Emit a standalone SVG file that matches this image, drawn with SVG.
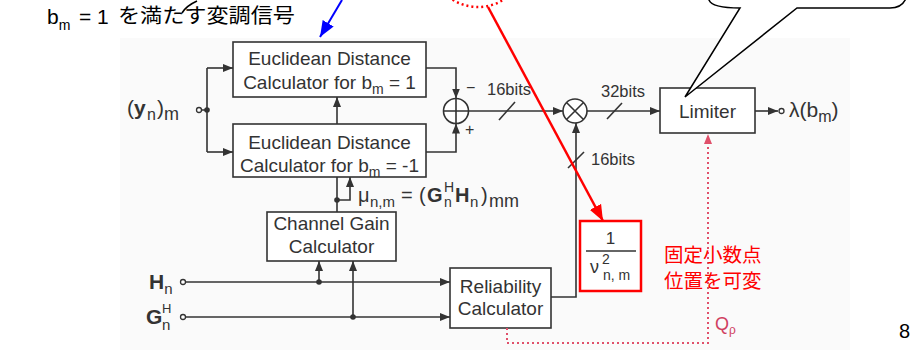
<svg xmlns="http://www.w3.org/2000/svg" width="922" height="350" viewBox="0 0 922 350">
<style>
.ln{stroke:#333;stroke-width:1.6;fill:none}
.bx{stroke:#333;stroke-width:1.6;fill:#fff}
.t{font-family:"Liberation Sans",Arial,sans-serif;fill:#333}
.b{font-weight:bold}
.dot{fill:#333}
.oc{fill:#fff;stroke:#333;stroke-width:1.3}
.j{font-family:"Liberation Sans","Noto Sans CJK JP",sans-serif}
</style>
<defs>
<marker id="ah" viewBox="0 0 10 8" refX="10" refY="4" markerWidth="10" markerHeight="8" markerUnits="userSpaceOnUse" orient="auto"><path d="M0,0 L10,4 L0,8 z" fill="#333"/></marker>
<marker id="ahr" viewBox="0 0 10 8" refX="10" refY="4" markerWidth="16" markerHeight="13" markerUnits="userSpaceOnUse" orient="auto"><path d="M0,0 L10,4 L0,8 z" fill="#f00"/></marker>
<marker id="ahb" viewBox="0 0 10 8" refX="10" refY="4" markerWidth="16" markerHeight="13" markerUnits="userSpaceOnUse" orient="auto"><path d="M0,0 L10,4 L0,8 z" fill="#00f"/></marker>
<marker id="ahp" viewBox="0 0 10 8" refX="10" refY="4" markerWidth="10" markerHeight="8" markerUnits="userSpaceOnUse" orient="auto"><path d="M0,0 L10,4 L0,8 z" fill="#e0506a"/></marker>
</defs>
<rect x="120" y="38" width="730" height="312" fill="#fafafa"/>

<!-- top annotation -->
<g id="note-top">
<text class="j" x="47" y="24" font-size="21" fill="#000">b<tspan dy="6" font-size="14">m</tspan><tspan x="79" dy="-6">= 1</tspan></text>
<text class="j" x="118" y="23" font-size="20" fill="#000" textLength="177" lengthAdjust="spacingAndGlyphs">を満たす変調信号</text>
<path d="M182,13 Q186,6 197,1" stroke="#000" stroke-width="1.6" fill="none"/>
</g>

<!-- nodes -->
<g id="ed1">
<rect class="bx" x="233" y="42" width="193" height="55"/>
<text class="t" x="329.5" y="65" text-anchor="middle" font-size="19">Euclidean Distance</text>
<text class="t" x="329.5" y="89" text-anchor="middle" font-size="19">Calculator for b<tspan dy="5" font-size="14">m</tspan><tspan dy="-5"> = 1</tspan></text>
</g>
<g id="ed2">
<rect class="bx" x="233" y="124" width="193" height="53"/>
<text class="t" x="329.5" y="149" text-anchor="middle" font-size="19">Euclidean Distance</text>
<text class="t" x="329.5" y="172" text-anchor="middle" font-size="19">Calculator for b<tspan dy="5" font-size="14">m</tspan><tspan dy="-5"> = -1</tspan></text>
</g>
<g id="cg">
<rect class="bx" x="267" y="212" width="129" height="49"/>
<text class="t" x="331.5" y="230" text-anchor="middle" font-size="19">Channel Gain</text>
<text class="t" x="331.5" y="253" text-anchor="middle" font-size="19">Calculator</text>
</g>
<g id="rc">
<rect class="bx" x="450" y="268" width="101" height="60"/>
<text class="t" x="500.5" y="293" text-anchor="middle" font-size="19">Reliability</text>
<text class="t" x="500.5" y="315" text-anchor="middle" font-size="19">Calculator</text>
</g>
<g id="limiter">
<rect class="bx" x="660" y="88" width="95" height="45"/>
<text class="t" x="707.5" y="118" text-anchor="middle" font-size="19">Limiter</text>
</g>
<g id="adder">
<circle class="bx" cx="456" cy="111" r="12.5"/>
<path class="ln" d="M443.5,111 H468.5 M456,98.5 V123.5"/>
</g>
<g id="mult">
<circle class="bx" cx="575" cy="111" r="12"/>
<path class="ln" d="M566.5,102.5 L583.5,119.5 M583.5,102.5 L566.5,119.5"/>
</g>
<g id="inv">
<rect x="580" y="221" width="61" height="70" fill="#fff" stroke="#f00" stroke-width="2.5"/>
<text class="t" x="610.5" y="244" text-anchor="middle" font-size="17">1</text>
<line x1="586" y1="251" x2="636" y2="251" stroke="#333" stroke-width="1.6"/>
<text class="t" x="590" y="273" font-size="18">ν<tspan x="602" dy="-9" font-size="14">2</tspan><tspan x="603" dy="16" font-size="14">n, m</tspan></text>
</g>

<!-- connectors -->
<g id="connectors">
<circle class="oc" cx="199" cy="110" r="2.5"/>
<path class="ln" d="M201.5,110 H207 M207,68 V152"/>
<path class="ln" d="M207,68 H233" marker-end="url(#ah)"/>
<path class="ln" d="M207,152 H233" marker-end="url(#ah)"/>
<circle class="dot" cx="207" cy="110" r="2.8"/>
<path class="ln" d="M426,68 H456 V98.5" marker-end="url(#ah)"/>
<path class="ln" d="M426,152 H456 V123.5" marker-end="url(#ah)"/>
<path class="ln" d="M337,124 V97" marker-end="url(#ah)"/>
<path class="ln" d="M337,212 V177"/>
<circle class="dot" cx="337" cy="200" r="2.8"/>
<path class="ln" d="M337,200 H350 V177" marker-end="url(#ah)"/>
<path class="ln" d="M468.5,111 H563" marker-end="url(#ah)"/>
<path class="ln" d="M499,120 L515,102"/>
<path class="ln" d="M587,111 H660" marker-end="url(#ah)"/>
<path class="ln" d="M607,119 L622,103"/>
<path class="ln" d="M755,111 H778" marker-end="url(#ah)"/>
<circle class="oc" cx="781.5" cy="111" r="2.5"/>
<path class="ln" d="M551,297 H576 V123" marker-end="url(#ah)"/>
<path class="ln" d="M568,168 L584,152"/>
<circle class="oc" cx="183" cy="282" r="2.5"/>
<path class="ln" d="M185.5,282 H450" marker-end="url(#ah)"/>
<circle class="dot" cx="319" cy="282" r="2.8"/>
<path class="ln" d="M319,282 V261" marker-end="url(#ah)"/>
<circle class="oc" cx="183" cy="317" r="2.5"/>
<path class="ln" d="M185.5,317 H450" marker-end="url(#ah)"/>
<circle class="dot" cx="353" cy="317" r="2.8"/>
<path class="ln" d="M353,317 V261" marker-end="url(#ah)"/>
<path d="M507,328 V343 H708 V134" fill="none" stroke="#e0506a" stroke-width="2" stroke-dasharray="2,3" marker-end="url(#ahp)"/>
</g>

<!-- labels -->
<g id="labels">
<text class="t" x="466" y="93" font-size="16">−</text>
<text class="t" x="465" y="135" font-size="16">+</text>
<text class="t" x="487" y="95" font-size="16.5">16bits</text>
<text class="t" x="601" y="97" font-size="16.5">32bits</text>
<text class="t" x="591" y="165" font-size="16.5">16bits</text>
<text class="t" x="358" y="202" font-size="20">μ<tspan x="370" dy="5" font-size="15">n,m</tspan><tspan x="401" dy="-5">=</tspan><tspan x="419">(</tspan><tspan x="427" class="b">G</tspan><tspan x="444" dy="-10" font-size="14">H</tspan><tspan x="444" dy="15" font-size="14">n</tspan><tspan x="455" dy="-5" class="b">H</tspan><tspan x="470" dy="5" font-size="15">n</tspan><tspan x="481" dy="-5">)</tspan><tspan x="489" dy="5" font-size="18">mm</tspan></text>
<text class="t" x="127" y="115" font-size="21">(<tspan x="134" class="b">y</tspan><tspan x="147" dy="5" font-size="16">n</tspan><tspan x="157" dy="-5">)</tspan><tspan x="164" dy="5" font-size="18">m</tspan></text>
<text class="t b" x="149" y="289" font-size="21">H<tspan dy="5" font-size="15" font-weight="normal">n</tspan></text>
<text class="t b" x="146" y="324" font-size="21">G<tspan x="162" dy="-11" font-size="13" font-weight="normal">H</tspan><tspan x="162" dy="17" font-size="15" font-weight="normal">n</tspan></text>
<text class="t" x="789" y="117" font-size="21">λ(b<tspan dy="5" font-size="16">m</tspan><tspan dy="-5">)</tspan></text>
<text x="715" y="330" font-family="Liberation Sans,sans-serif" font-size="18" fill="#d04060">Q<tspan dy="4" font-size="12">ρ</tspan></text>
<text class="j" x="664" y="262" font-size="19.5" fill="#f00">固定小数点</text>
<text class="j" x="664" y="288" font-size="19.5" fill="#f00">位置を可変</text>
<text x="899" y="338" font-family="Liberation Sans,sans-serif" font-size="20" fill="#000">8</text>
</g>

<!-- annotations overlay -->
<g id="annotations">
<path d="M342,0 L320,37" stroke="#00f" stroke-width="2" marker-end="url(#ahb)"/>
<circle cx="478" cy="-41" r="48" fill="none" stroke="#f00" stroke-width="2.5" stroke-dasharray="2,3"/>
<path d="M488,7 L603,221" stroke="#f00" stroke-width="2.5" marker-end="url(#ahr)"/>
<path d="M706,-5 L709,0 Q712,8 740,8 L685,97 L797,8 L890,8 Q904,8 907,-5 Z" fill="#fff" stroke="#000" stroke-width="1.5"/>
</g>
</svg>
